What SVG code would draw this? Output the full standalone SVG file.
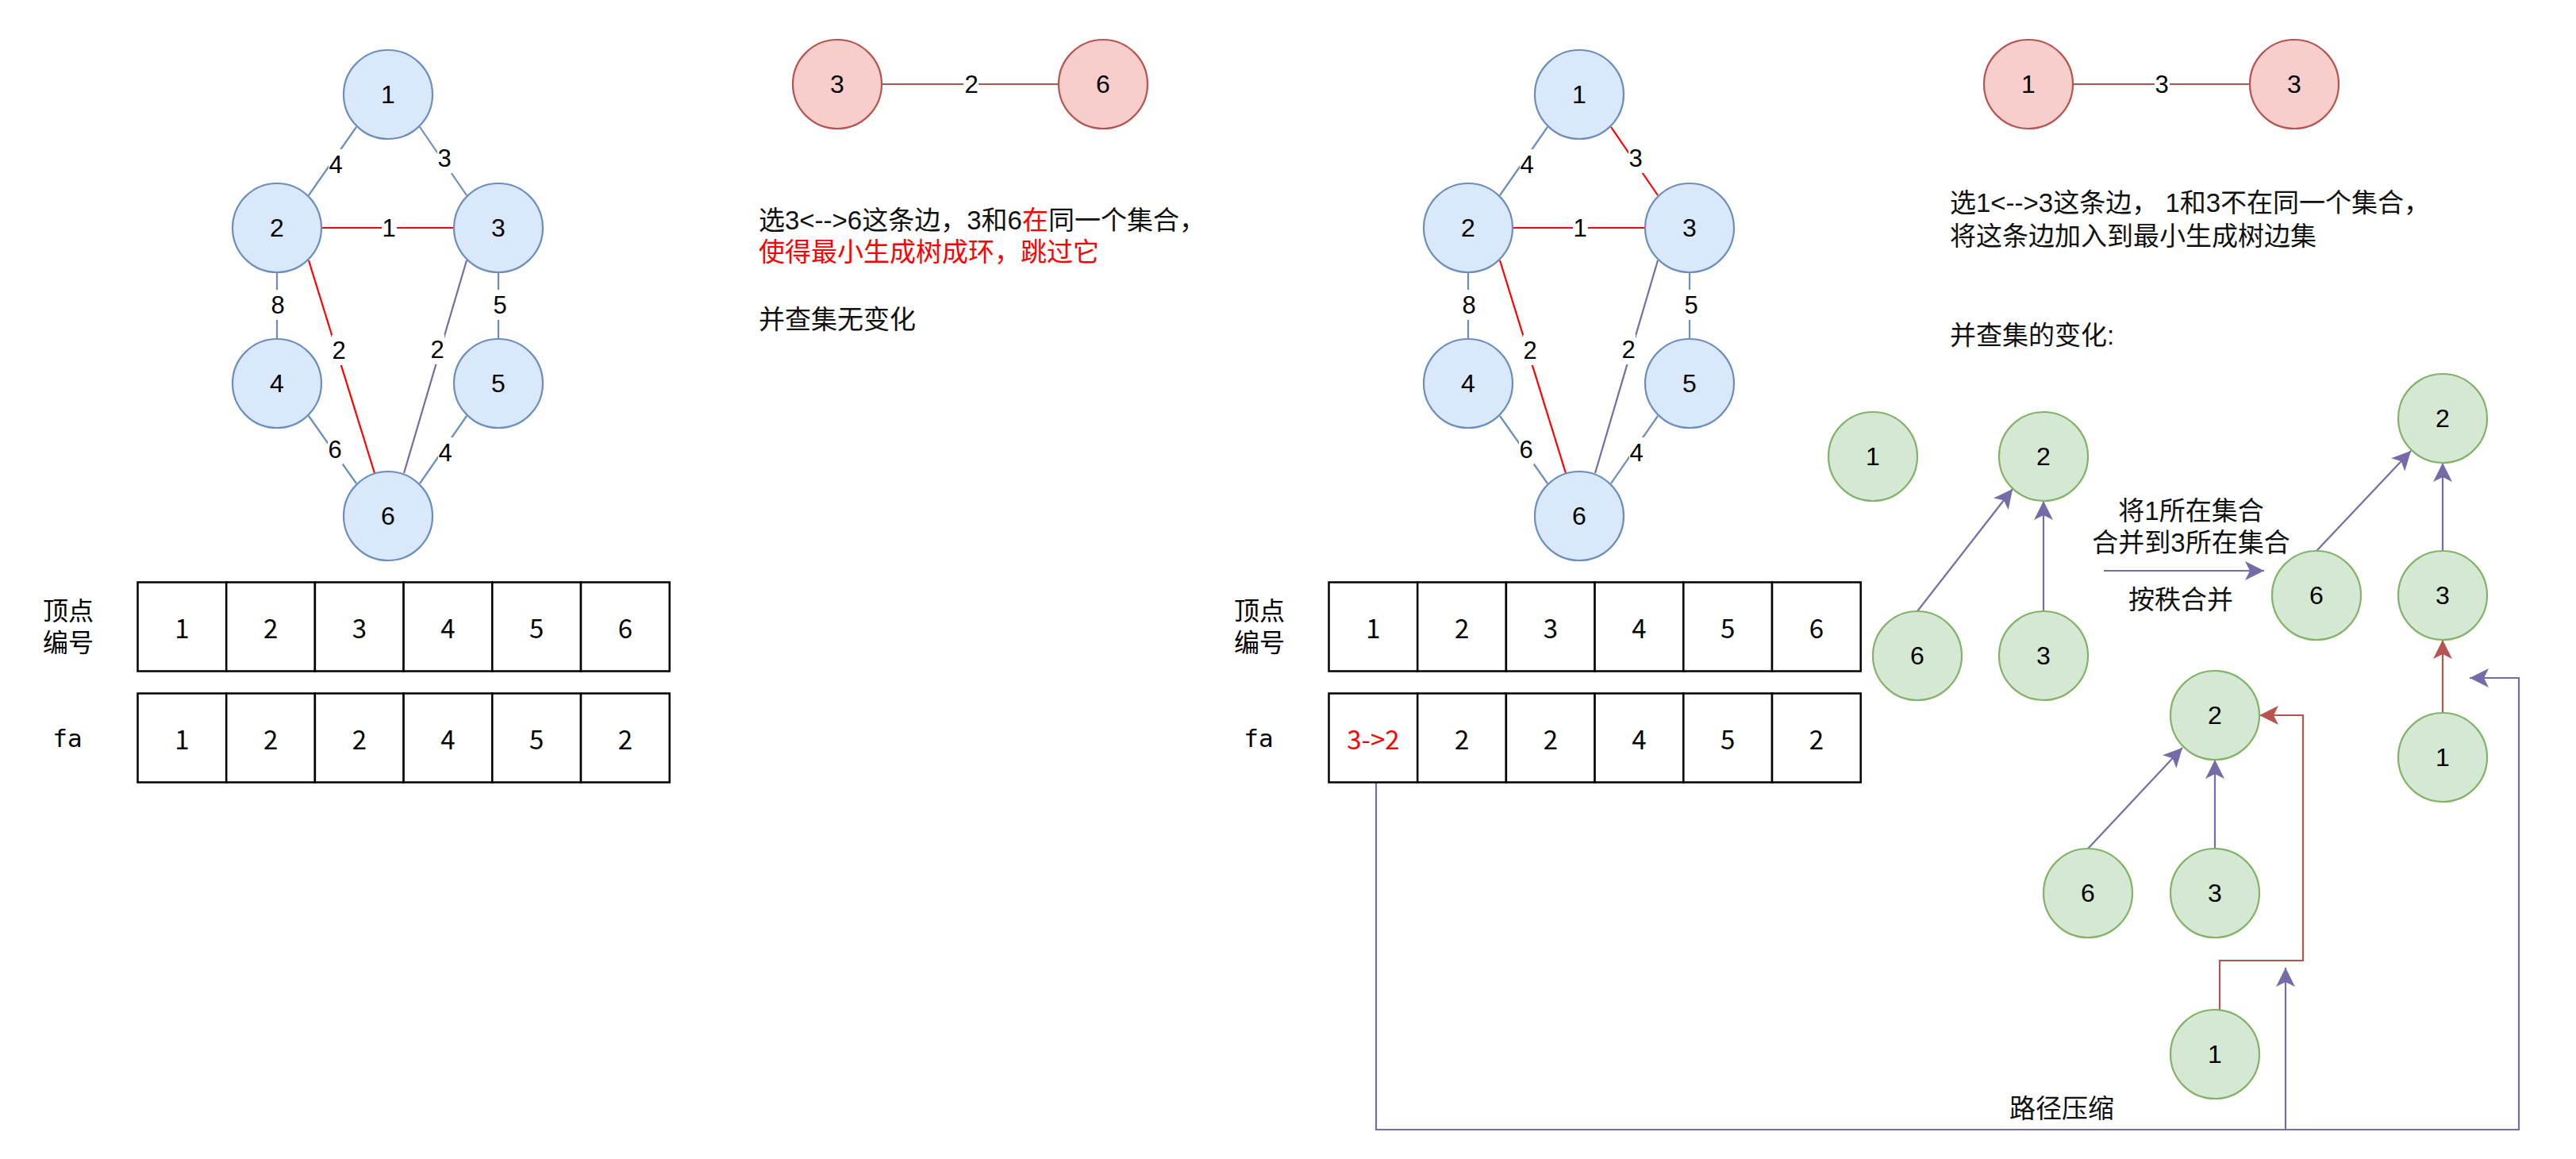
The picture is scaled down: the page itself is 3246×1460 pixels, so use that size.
<svg xmlns="http://www.w3.org/2000/svg" width="3246" height="1460" viewBox="0 0 3246 1460">
<style>
.gn circle{fill:#dae8fc;stroke:#6c8ebf;stroke-width:2.2}
.pn circle{fill:#f8cecc;stroke:#b85450;stroke-width:2.2}
.tn circle{fill:#d5e8d4;stroke:#82b366;stroke-width:2.2}
.nl{font-family:"Liberation Sans",Arial,sans-serif;font-size:32px;fill:#000;text-anchor:middle;dominant-baseline:central}
.el{font-family:"Liberation Sans",Arial,sans-serif;font-size:31px;fill:#000;text-anchor:middle;dominant-baseline:central}
.eb{fill:#fff}
.blue{stroke:#6c8ebf;stroke-width:2.2;fill:none}
.red{stroke:#ff0000;stroke-width:2.2;fill:none}
.pur{stroke:#736ca8;stroke-width:2.2;fill:none}
.pink{stroke:#b85450;stroke-width:2.2;fill:none}
.cell{fill:#fff;stroke:#000;stroke-width:2.5}
.cn{font-family:"Noto Sans CJK SC",sans-serif;font-size:33px;fill:#000;text-anchor:middle;dominant-baseline:central}
.lb{font-family:"Noto Sans CJK SC",sans-serif;font-size:32px;fill:#000;text-anchor:middle}
.fa{font-family:"DejaVu Sans Mono",monospace;font-size:31px;fill:#000;text-anchor:middle}
.desc{font-family:"Liberation Sans","Noto Sans CJK SC",sans-serif;font-size:33px;fill:#111}
.mid{text-anchor:middle}
.rt{fill:#ff0000}
</style>
<defs>
<marker id="ap" viewBox="0 0 24 24" refX="24" refY="12" markerWidth="24" markerHeight="24" markerUnits="userSpaceOnUse" orient="auto"><path d="M24,12 L0,0 L6,12 L0,24 Z" fill="#736ca8"/></marker>
<marker id="ar" viewBox="0 0 24 24" refX="24" refY="12" markerWidth="24" markerHeight="24" markerUnits="userSpaceOnUse" orient="auto"><path d="M24,12 L0,0 L6,12 L0,24 Z" fill="#b85450"/></marker>
</defs>
<rect width="3246" height="1460" fill="#fff"/>

<!-- connectors -->
<g id="connectors">
  <!-- left graph -->
  <path class="blue" d="M449,160 L389,246"/>
  <path class="blue" d="M529,160 L588,246"/>
  <path class="red" d="M405,287 L572,287"/>
  <path class="blue" d="M349,343 L349,427"/>
  <path class="blue" d="M628,343 L628,427"/>
  <path class="red" d="M389,328 L472,596"/>
  <path class="pur" d="M588,328 L509,596"/>
  <path class="blue" d="M389,524 L449,609"/>
  <path class="blue" d="M588,524 L529,609"/>
  <g id="left-edge-labels">
    <rect class="eb" x="414" y="188" width="19" height="38"/><text class="el" x="423" y="207">4</text>
    <rect class="eb" x="551" y="180" width="19" height="38"/><text class="el" x="560" y="199">3</text>
    <rect class="eb" x="481" y="268" width="19" height="38"/><text class="el" x="490" y="287">1</text>
    <rect class="eb" x="340" y="365" width="19" height="38"/><text class="el" x="350" y="384">8</text>
    <rect class="eb" x="620" y="365" width="19" height="38"/><text class="el" x="630" y="384">5</text>
    <rect class="eb" x="418" y="422" width="19" height="38"/><text class="el" x="427" y="441">2</text>
    <rect class="eb" x="541" y="421" width="19" height="38"/><text class="el" x="551" y="440">2</text>
    <rect class="eb" x="413" y="547" width="19" height="38"/><text class="el" x="422" y="566">6</text>
    <rect class="eb" x="552" y="551" width="19" height="38"/><text class="el" x="561" y="570">4</text>
  </g>
  <!-- right graph -->
  <path class="blue" d="M1950,160 L1890,246"/>
  <path class="red" d="M2030,160 L2089,246"/>
  <path class="red" d="M1906,287 L2073,287"/>
  <path class="blue" d="M1850,343 L1850,427"/>
  <path class="blue" d="M2129,343 L2129,427"/>
  <path class="red" d="M1890,328 L1973,596"/>
  <path class="pur" d="M2089,328 L2010,596"/>
  <path class="blue" d="M1890,524 L1950,609"/>
  <path class="blue" d="M2089,524 L2030,609"/>
  <g id="right-edge-labels">
    <rect class="eb" x="1915" y="188" width="19" height="38"/><text class="el" x="1924" y="207">4</text>
    <rect class="eb" x="2052" y="180" width="19" height="38"/><text class="el" x="2061" y="199">3</text>
    <rect class="eb" x="1982" y="268" width="19" height="38"/><text class="el" x="1991" y="287">1</text>
    <rect class="eb" x="1841" y="365" width="19" height="38"/><text class="el" x="1851" y="384">8</text>
    <rect class="eb" x="2121" y="365" width="19" height="38"/><text class="el" x="2131" y="384">5</text>
    <rect class="eb" x="1919" y="422" width="19" height="38"/><text class="el" x="1928" y="441">2</text>
    <rect class="eb" x="2042" y="421" width="19" height="38"/><text class="el" x="2052" y="440">2</text>
    <rect class="eb" x="1914" y="547" width="19" height="38"/><text class="el" x="1923" y="566">6</text>
    <rect class="eb" x="2053" y="551" width="19" height="38"/><text class="el" x="2062" y="570">4</text>
  </g>
  <!-- pink edges -->
  <path class="pink" d="M1111,106 L1334,106"/>
  <rect class="eb" x="1214" y="87" width="19" height="38"/><text class="el" x="1224" y="106">2</text>
  <path class="pink" d="M2612,106 L2835,106"/>
  <rect class="eb" x="2715" y="87" width="19" height="38"/><text class="el" x="2724" y="106">3</text>
  <!-- union-find trees -->
  <path class="pur" d="M2416,770 L2536,616" marker-end="url(#ap)"/>
  <path class="pur" d="M2575,770 L2575,631" marker-end="url(#ap)"/>
  <path class="pur" d="M2651,719 L2853,719" stroke-width="3" marker-end="url(#ap)"/>
  <path class="pur" d="M2919,694 L3038,568" marker-end="url(#ap)"/>
  <path class="pur" d="M3078,694 L3078,583" marker-end="url(#ap)"/>
  <path class="pink" d="M3078,898 L3078,806" marker-end="url(#ar)"/>
  <path class="pur" d="M2631,1069 L2750,942" marker-end="url(#ap)"/>
  <path class="pur" d="M2791,1069 L2791,957" marker-end="url(#ap)"/>
  <path class="pink" d="M2797,1272 L2797,1210 L2902,1210 L2902,901 L2847,901" marker-end="url(#ar)"/>
  <path class="pur" d="M1734,985 L1734,1423 L3174,1423 L3174,854 L3112,854" marker-end="url(#ap)"/>
  <path class="pur" d="M2880,1423 L2880,1219" marker-end="url(#ap)"/>
</g>

<!-- left graph nodes -->
<g id="L-n1" class="gn"><circle cx="489" cy="119" r="56"/><text class="nl" x="489" y="119">1</text></g>
<g id="L-n2" class="gn"><circle cx="349" cy="287" r="56"/><text class="nl" x="349" y="287">2</text></g>
<g id="L-n3" class="gn"><circle cx="628" cy="287" r="56"/><text class="nl" x="628" y="287">3</text></g>
<g id="L-n4" class="gn"><circle cx="349" cy="483" r="56"/><text class="nl" x="349" y="483">4</text></g>
<g id="L-n5" class="gn"><circle cx="628" cy="483" r="56"/><text class="nl" x="628" y="483">5</text></g>
<g id="L-n6" class="gn"><circle cx="489" cy="650" r="56"/><text class="nl" x="489" y="650">6</text></g>

<!-- right graph nodes -->
<g id="R-n1" class="gn"><circle cx="1990" cy="119" r="56"/><text class="nl" x="1990" y="119">1</text></g>
<g id="R-n2" class="gn"><circle cx="1850" cy="287" r="56"/><text class="nl" x="1850" y="287">2</text></g>
<g id="R-n3" class="gn"><circle cx="2129" cy="287" r="56"/><text class="nl" x="2129" y="287">3</text></g>
<g id="R-n4" class="gn"><circle cx="1850" cy="483" r="56"/><text class="nl" x="1850" y="483">4</text></g>
<g id="R-n5" class="gn"><circle cx="2129" cy="483" r="56"/><text class="nl" x="2129" y="483">5</text></g>
<g id="R-n6" class="gn"><circle cx="1990" cy="650" r="56"/><text class="nl" x="1990" y="650">6</text></g>

<!-- pink nodes -->
<g id="P-left-3" class="pn"><circle cx="1055" cy="106" r="56"/><text class="nl" x="1055" y="106">3</text></g>
<g id="P-left-6" class="pn"><circle cx="1390" cy="106" r="56"/><text class="nl" x="1390" y="106">6</text></g>
<g id="P-right-1" class="pn"><circle cx="2556" cy="106" r="56"/><text class="nl" x="2556" y="106">1</text></g>
<g id="P-right-3" class="pn"><circle cx="2891" cy="106" r="56"/><text class="nl" x="2891" y="106">3</text></g>

<!-- descriptions -->
<g id="desc-left">
  <text class="desc" x="956" y="289">选3&lt;--&gt;6这条边，3和6<tspan class="rt">在</tspan>同一个集合，<tspan class="rt" x="956" y="329">使得最小生成树成环，跳过它</tspan></text>
  <text class="desc" x="956" y="414">并查集无变化</text>
</g>
<g id="desc-right">
  <text class="desc" x="2457" y="267">选1&lt;--&gt;3这条边， 1和3不在同一个集合，<tspan x="2457" y="309">将这条边加入到最小生成树边集</tspan></text>
  <text class="desc" x="2457" y="434">并查集的变化:</text>
</g>

<!-- tables -->
<g id="table-left">
  <text class="lb" x="86" y="781">顶点<tspan x="86" y="821">编号</tspan></text>
  <text class="fa" x="85" y="941">fa</text>
  <rect class="cell" x="173.5" y="733.5" width="111.7" height="112"/>
  <rect class="cell" x="285.2" y="733.5" width="111.7" height="112"/>
  <rect class="cell" x="396.9" y="733.5" width="111.7" height="112"/>
  <rect class="cell" x="508.6" y="733.5" width="111.7" height="112"/>
  <rect class="cell" x="620.3" y="733.5" width="111.7" height="112"/>
  <rect class="cell" x="732.0" y="733.5" width="111.7" height="112"/>
  <rect class="cell" x="173.5" y="873.5" width="111.7" height="112"/>
  <rect class="cell" x="285.2" y="873.5" width="111.7" height="112"/>
  <rect class="cell" x="396.9" y="873.5" width="111.7" height="112"/>
  <rect class="cell" x="508.6" y="873.5" width="111.7" height="112"/>
  <rect class="cell" x="620.3" y="873.5" width="111.7" height="112"/>
  <rect class="cell" x="732.0" y="873.5" width="111.7" height="112"/>
  <text class="cn" x="229.4" y="789.5">1</text>
  <text class="cn" x="341.1" y="789.5">2</text>
  <text class="cn" x="452.8" y="789.5">3</text>
  <text class="cn" x="564.5" y="789.5">4</text>
  <text class="cn" x="676.2" y="789.5">5</text>
  <text class="cn" x="787.9" y="789.5">6</text>
  <text class="cn" x="229.4" y="929.5">1</text>
  <text class="cn" x="341.1" y="929.5">2</text>
  <text class="cn" x="452.8" y="929.5">2</text>
  <text class="cn" x="564.5" y="929.5">4</text>
  <text class="cn" x="676.2" y="929.5">5</text>
  <text class="cn" x="787.9" y="929.5">2</text>
</g>
<g id="table-right">
  <text class="lb" x="1587" y="781">顶点<tspan x="1587" y="821">编号</tspan></text>
  <text class="fa" x="1586" y="941">fa</text>
  <rect class="cell" x="1674.5" y="733.5" width="111.7" height="112"/>
  <rect class="cell" x="1786.2" y="733.5" width="111.7" height="112"/>
  <rect class="cell" x="1897.9" y="733.5" width="111.7" height="112"/>
  <rect class="cell" x="2009.6" y="733.5" width="111.7" height="112"/>
  <rect class="cell" x="2121.3" y="733.5" width="111.7" height="112"/>
  <rect class="cell" x="2233.0" y="733.5" width="111.7" height="112"/>
  <rect class="cell" x="1674.5" y="873.5" width="111.7" height="112"/>
  <rect class="cell" x="1786.2" y="873.5" width="111.7" height="112"/>
  <rect class="cell" x="1897.9" y="873.5" width="111.7" height="112"/>
  <rect class="cell" x="2009.6" y="873.5" width="111.7" height="112"/>
  <rect class="cell" x="2121.3" y="873.5" width="111.7" height="112"/>
  <rect class="cell" x="2233.0" y="873.5" width="111.7" height="112"/>
  <text class="cn" x="1730.4" y="789.5">1</text>
  <text class="cn" x="1842.1" y="789.5">2</text>
  <text class="cn" x="1953.8" y="789.5">3</text>
  <text class="cn" x="2065.5" y="789.5">4</text>
  <text class="cn" x="2177.2" y="789.5">5</text>
  <text class="cn" x="2288.9" y="789.5">6</text>
  <text class="cn rt" x="1730.4" y="929.5">3-&gt;2</text>
  <text class="cn" x="1842.1" y="929.5">2</text>
  <text class="cn" x="1953.8" y="929.5">2</text>
  <text class="cn" x="2065.5" y="929.5">4</text>
  <text class="cn" x="2177.2" y="929.5">5</text>
  <text class="cn" x="2288.9" y="929.5">2</text>
</g>

<!-- union-find nodes -->
<g id="T0-n1" class="tn"><circle cx="2360" cy="575" r="56"/><text class="nl" x="2360" y="575">1</text></g>
<g id="T0-n2" class="tn"><circle cx="2575" cy="575" r="56"/><text class="nl" x="2575" y="575">2</text></g>
<g id="T0-n6" class="tn"><circle cx="2416" cy="826" r="56"/><text class="nl" x="2416" y="826">6</text></g>
<g id="T0-n3" class="tn"><circle cx="2575" cy="826" r="56"/><text class="nl" x="2575" y="826">3</text></g>
<g id="T1-n2" class="tn"><circle cx="3078" cy="527" r="56"/><text class="nl" x="3078" y="527">2</text></g>
<g id="T1-n6" class="tn"><circle cx="2919" cy="750" r="56"/><text class="nl" x="2919" y="750">6</text></g>
<g id="T1-n3" class="tn"><circle cx="3078" cy="750" r="56"/><text class="nl" x="3078" y="750">3</text></g>
<g id="T1-n1" class="tn"><circle cx="3078" cy="954" r="56"/><text class="nl" x="3078" y="954">1</text></g>
<g id="T2-n2" class="tn"><circle cx="2791" cy="901" r="56"/><text class="nl" x="2791" y="901">2</text></g>
<g id="T2-n6" class="tn"><circle cx="2631" cy="1125" r="56"/><text class="nl" x="2631" y="1125">6</text></g>
<g id="T2-n3" class="tn"><circle cx="2791" cy="1125" r="56"/><text class="nl" x="2791" y="1125">3</text></g>
<g id="T2-n1" class="tn"><circle cx="2791" cy="1328" r="56"/><text class="nl" x="2791" y="1328">1</text></g>

<!-- annotations -->
<g id="merge-label">
  <text class="desc mid" x="2761" y="655">将1所在集合<tspan x="2761" y="695">合并到3所在集合</tspan></text>
  <text class="desc mid" x="2748" y="767">按秩合并</text>
</g>
<g id="compress-label">
  <text class="desc mid" x="2598" y="1408">路径压缩</text>
</g>
</svg>
